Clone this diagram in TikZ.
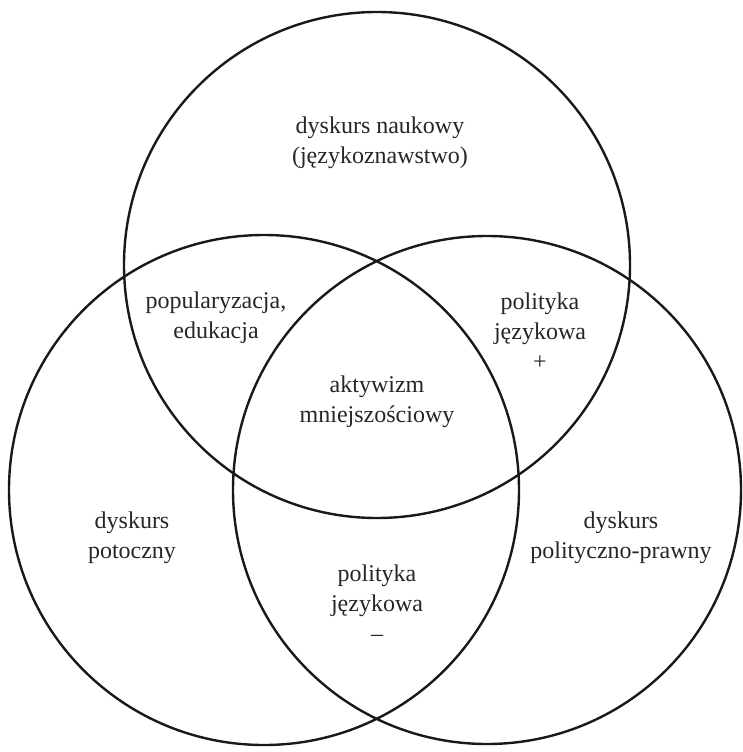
\documentclass[tikz,border=0pt]{standalone}
\usepackage{fontspec}
\setmainfont{Liberation Serif}
\begin{document}
\begin{tikzpicture}[x=1pt, y=-1pt, line width=2.4pt, draw=black!90,
  lbl/.style={align=center, font=\fontsize{24}{30}\selectfont, text=black!85}]
\useasboundingbox (0,0) rectangle (742,752);
\draw (377,265) circle[radius=253];
\draw (264,490) circle[radius=255];
\draw (487,490) circle[radius=254];
\node[lbl] (nauk) at (380,143) {dyskurs naukowy\\(językoznawstwo)};
\node[lbl] (popul) at (216,318) {popularyzacja,\\edukacja};
\node[lbl] (polplus) at (540,331) {polityka\\językowa\\+};
\node[lbl] (aktyw) at (377,402) {aktywizm\\mniejszościowy};
\node[lbl] (potocz) at (132,538) {dyskurs\\potoczny};
\node[lbl] (polpraw) at (621,538) {dyskurs\\polityczno-prawny};
\node[lbl] (polminus) at (377,603) {polityka\\językowa\\–};
\end{tikzpicture}
\end{document}
